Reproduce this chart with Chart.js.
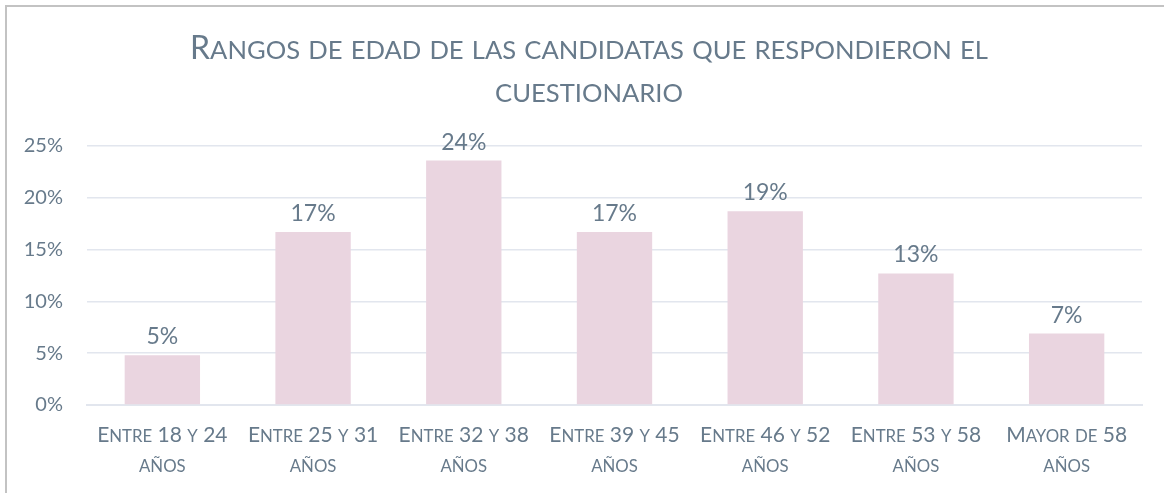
<!DOCTYPE html>
<html>
<head>
<meta charset="utf-8">
<script src="https://cdn.jsdelivr.net/npm/chart.js@4"></script>
<style>
  html, body { margin: 0; padding: 0; background: #fff; overflow: hidden; }
  #wrap { position: relative; width: 1164px; height: 493px; }
  #frame { position: absolute; left: 5px; top: 5px; width: 1300px; height: 600px; border: 2px solid #c3c3c3; box-sizing: border-box; }
  #box { position: absolute; left: 0; top: 0; width: 1164px; height: 493px; }
</style>
</head>
<body>
<div id="wrap">
  <div id="frame"></div>
  <div id="box"><canvas id="barChart"></canvas></div>
</div>
<script>
const titleLines = ['Rangos de edad de las candidatas que respondieron el', 'cuestionario'];
const categories = [
    ['Entre 18 y 24', 'años'],
    ['Entre 25 y 31', 'años'],
    ['Entre 32 y 38', 'años'],
    ['Entre 39 y 45', 'años'],
    ['Entre 46 y 52', 'años'],
    ['Entre 53 y 58', 'años'],
    ['Mayor de 58', 'años']
];
const shares = [4.8, 16.7, 23.6, 16.7, 18.7, 12.7, 6.9];
const yTicks = [0, 5, 10, 15, 20, 25];

const textColor = '#677a8b';
const gridColor = '#e2e6ee';
const fontFamily = 'Lato, "Noto Sans", sans-serif';

// small caps like the office charts: lowercase drawn as capitals at 80% size
function drawSmallCaps(ctx, text, cx, baseline, size) {
    const runs = [];
    for (const ch of text) {
        const small = ch !== ch.toUpperCase();
        const last = runs[runs.length - 1];
        if (last && last.small === small) last.t += ch;
        else runs.push({ small: small, t: ch });
    }
    const fontFor = r => (r.small ? size * 0.8 : size) + 'px ' + fontFamily;
    let total = 0;
    runs.forEach(r => {
        ctx.font = fontFor(r);
        r.t = r.t.toUpperCase();
        r.w = ctx.measureText(r.t).width;
        total += r.w;
    });
    let x = cx - total / 2;
    ctx.textAlign = 'left';
    ctx.textBaseline = 'alphabetic';
    runs.forEach(r => {
        ctx.font = fontFor(r);
        ctx.fillText(r.t, x, baseline);
        x += r.w;
    });
}

const textLayer = {
    id: 'textLayer',
    afterDraw(chart) {
        const ctx = chart.ctx;
        ctx.save();
        ctx.fillStyle = textColor;

        // title
        drawSmallCaps(ctx, titleLines[0], 589, 59, 32);
        drawSmallCaps(ctx, titleLines[1], 589, 102, 32);

        // category labels
        const xScale = chart.scales.x;
        categories.forEach((lines, i) => {
            const px = xScale.getPixelForTick(i);
            lines.forEach((line, j) => {
                drawSmallCaps(ctx, line, px, xScale.top + 37 + j * 29.5, 21);
            });
        });

        // values above bars
        const meta = chart.getDatasetMeta(0);
        ctx.font = '23px ' + fontFamily;
        ctx.textAlign = 'center';
        ctx.textBaseline = 'alphabetic';
        meta.data.forEach((bar, i) => {
            ctx.fillText(Math.round(shares[i]) + '%', bar.x, bar.y - 11);
        });
        ctx.restore();
    }
};

new Chart(document.getElementById('barChart'), {
    type: 'bar',
    data: {
        labels: categories,
        datasets: [{
            data: shares,
            backgroundColor: '#ead5e0',
            borderWidth: 0,
            barPercentage: 0.5,
            categoryPercentage: 1.0
        }]
    },
    options: {
        responsive: true,
        maintainAspectRatio: false,
        animation: false,
        layout: {
            padding: { left: 0, right: 22, top: 146, bottom: 0 }
        },
        plugins: {
            legend: { display: false },
            tooltip: { enabled: false },
            title: { display: false }
        },
        scales: {
            x: {
                afterFit(scale) { scale.height = 88; },
                grid: { display: false, drawTicks: false },
                border: { display: true, color: gridColor, width: 2 },
                ticks: { display: false }
            },
            y: {
                min: 0,
                max: 25,
                afterFit(scale) { scale.width = 87; },
                afterBuildTicks(scale) { scale.ticks = yTicks.map(v => ({ value: v })); },
                grid: { color: gridColor, lineWidth: 1.5, drawTicks: false },
                border: { display: false },
                ticks: {
                    color: textColor,
                    padding: 24,
                    font: { family: fontFamily, size: 20 },
                    callback: v => v + '%'
                }
            }
        }
    },
    plugins: [textLayer]
});
</script>
</body>
</html>
